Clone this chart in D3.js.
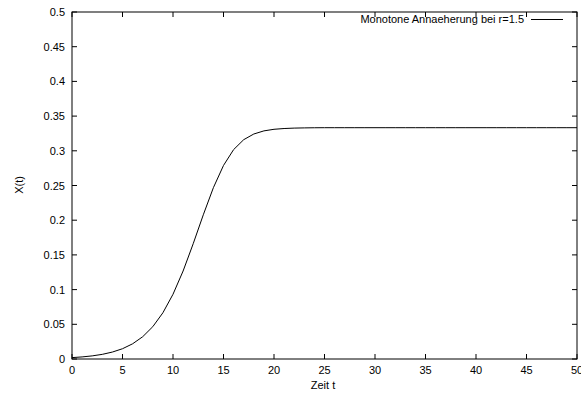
<!DOCTYPE html>
<html><head><meta charset="utf-8">
<script src="https://cdn.jsdelivr.net/npm/d3@7"></script>
<style>body{margin:0;background:#fff}svg{display:block}text{font-family:"Liberation Sans",Arial,sans-serif;font-size:11px;fill:#000}</style>
</head><body>
<script>
const tValues = [0,1,2,3,4,5,6,7,8,9,10,11,12,13,14,15,16,17,18,19,20,21,22,23,24,25,26,27,28,29,30,31,32,33,34,35,36,37,38,39,40,41,42,43,44,45,46,47,48,49,50];
const xValues = [0.0020,0.0030,0.0045,0.0067,0.0100,0.0148,0.0219,0.0321,0.0466,0.0666,0.0933,0.1268,0.1661,0.2078,0.2469,0.2789,0.3017,0.3160,0.3242,0.3287,0.3310,0.3321,0.3327,0.3330,0.3332,0.3333,0.3333,0.3333,0.3333,0.3333,0.3333,0.3333,0.3333,0.3333,0.3333,0.3333,0.3333,0.3333,0.3333,0.3333,0.3333,0.3333,0.3333,0.3333,0.3333,0.3333,0.3333,0.3333,0.3333,0.3333,0.3333];
const xTicks = [0,5,10,15,20,25,30,35,40,45,50];
const yTicks = [0,0.05,0.1,0.15,0.2,0.25,0.3,0.35,0.4,0.45,0.5];
const legendLabel = "Monotone Annaeherung bei r=1.5";

const W=581,H=396, L=72, R=577, T=12, B=359;
const svg=d3.select("body").append("svg").attr("width",W).attr("height",H);
const x=d3.scaleLinear().domain([0,50]).range([L,R]);
const y=d3.scaleLinear().domain([0,0.5]).range([B,T]);
const tl=5;
const g=svg.append("g");
// ticks
xTicks.forEach(v=>{
  g.append("line").attr("x1",x(v)).attr("x2",x(v)).attr("y1",B).attr("y2",B-tl).attr("stroke","#000");
  g.append("line").attr("x1",x(v)).attr("x2",x(v)).attr("y1",T).attr("y2",T+tl).attr("stroke","#000");
  g.append("text").attr("x",x(v)).attr("y",374).attr("text-anchor","middle").text(d3.format("d")(v));
});
yTicks.forEach(v=>{
  g.append("line").attr("x1",L).attr("x2",L+tl).attr("y1",y(v)).attr("y2",y(v)).attr("stroke","#000");
  g.append("line").attr("x1",R).attr("x2",R-tl).attr("y1",y(v)).attr("y2",y(v)).attr("stroke","#000");
  g.append("text").attr("x",65).attr("y",y(v)+4).attr("text-anchor","end").text(v===0?"0":String(+v.toFixed(2)));
});
g.append("rect").attr("x",L).attr("y",T).attr("width",R-L).attr("height",B-T).attr("fill","none").attr("stroke","#000").attr("stroke-width",1);
// line
const line=d3.line().x((d,i)=>x(tValues[i])).y(d=>y(d));
g.append("path").datum(xValues).attr("d",line).attr("fill","none").attr("stroke","#000").attr("stroke-width",1);
// legend
g.append("text").attr("x",524).attr("y",23).attr("text-anchor","end").text(legendLabel);
g.append("line").attr("x1",531).attr("x2",563).attr("y1",19.5).attr("y2",19.5).attr("stroke","#000");
// axis labels
g.append("text").attr("x",323).attr("y",389).attr("text-anchor","middle").text("Zeit t");
g.append("text").attr("transform","translate(23,185) rotate(-90)").attr("text-anchor","middle").text("X(t)");
</script>
</body></html>
